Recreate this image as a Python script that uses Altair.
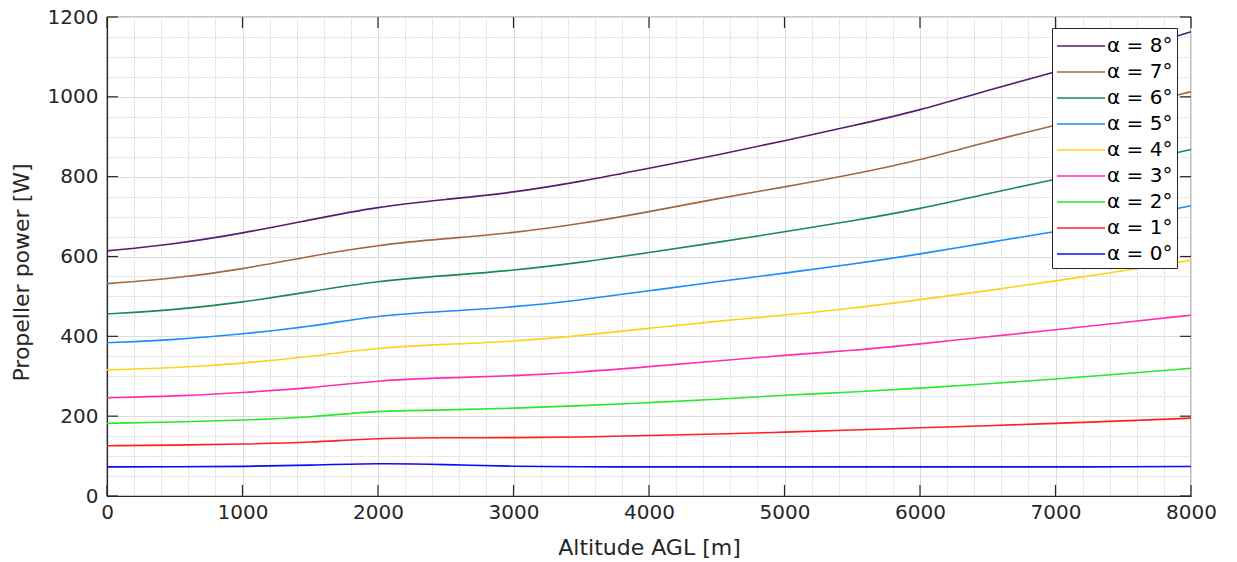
import altair as alt
import pandas as pd

altitude = [0, 500, 1000, 1500, 2000, 2500, 3000, 3500, 4000, 4500, 5000, 5500, 6000, 6500, 7000, 7500, 8000]
alpha_labels = ["α = 8°", "α = 7°", "α = 6°", "α = 5°", "α = 4°", "α = 3°", "α = 2°", "α = 1°", "α = 0°"]
alpha_colors = ["#561c72", "#a6673f", "#1b8a4e", "#1a8cff", "#ffd21a", "#ff2eb4", "#2ae82a", "#ff2020", "#0a0aff"]

p8 = [614, 631, 658, 692, 725, 743, 760, 788, 821, 854, 890, 927, 966, 1017, 1062, 1112, 1163]
p7 = [532, 545, 568, 601, 629, 645, 659, 682, 712, 745, 774, 805, 841, 888, 929, 970, 1013]
p6 = [456, 466, 485, 512, 539, 552, 565, 585, 610, 635, 662, 689, 719, 758, 793, 830, 868]
p5 = [384, 391, 406, 424, 453, 463, 473, 491, 514, 537, 558, 581, 606, 635, 662, 694, 727]
p4 = [316, 321, 332, 349, 372, 380, 387, 402, 420, 438, 453, 470, 492, 514, 539, 564, 591]
p3 = [246, 250, 259, 270, 290, 296, 301, 310, 324, 338, 353, 364, 381, 399, 416, 435, 453]
p2 = [182, 185, 190, 197, 214, 215, 220, 226, 234, 242, 253, 260, 270, 281, 293, 306, 320]
p1 = [126, 127, 130, 134, 145, 146, 146, 147, 152, 155, 160, 165, 171, 176, 182, 188, 195]
p0 = [73, 73, 74, 77, 82, 79, 74, 73, 73, 73, 73, 73, 73, 73, 73, 73, 74]

x_major = [0, 1000, 2000, 3000, 4000, 5000, 6000, 7000, 8000]
y_major = [0, 200, 400, 600, 800, 1000, 1200]
x_minor = list(range(0, 8001, 200))
y_minor = list(range(0, 1201, 50))

series = [p8, p7, p6, p5, p4, p3, p2, p1, p0]
rows = []
for lab, vals in zip(alpha_labels, series):
    for a, v in zip(altitude, vals):
        rows.append({"altitude": a, "power": v, "alpha": lab})
df = pd.DataFrame(rows)
xt_df = pd.DataFrame({"xt": x_major})
yt_df = pd.DataFrame({"yt": y_major})

W, H = 1084, 479
TL = 11
FONT = "DejaVu Sans"
TXT = "#262626"
xs = alt.Scale(domain=[0, 8000], nice=False, zero=False)
ys = alt.Scale(domain=[0, 1200], nice=False, zero=False)

base = alt.Chart(df)

# grid layer (major solid, minor dotted)
grid = base.mark_line(opacity=0).encode(
    x=alt.X("altitude:Q", scale=xs, axis=alt.Axis(
        orient="bottom", values=x_minor, grid=True, labels=False, ticks=False, domain=False, title=None,
        gridColor={"condition": {"test": "datum.value % 1000 === 0", "value": "#dcdcdc"}, "value": "#bdbdbd"},
        gridDash={"condition": {"test": "datum.value % 1000 === 0", "value": []}, "value": [1, 2]},
        gridWidth=1)),
    y=alt.Y("power:Q", scale=ys, axis=alt.Axis(
        orient="left", values=y_minor, grid=True, labels=False, ticks=False, domain=False, title=None,
        gridColor={"condition": {"test": "datum.value % 200 === 0", "value": "#dcdcdc"}, "value": "#bdbdbd"},
        gridDash={"condition": {"test": "datum.value % 200 === 0", "value": []}, "value": [1, 2]},
        gridWidth=1)),
)

lines = base.mark_line(strokeWidth=1.6, interpolate="basis").encode(
    x=alt.X("altitude:Q", scale=xs, axis=alt.Axis(
        orient="bottom", values=x_major, format="d", grid=False, ticks=False, domain=True,
        domainColor=TXT, domainWidth=1.2,
        labelFont=FONT, labelFontSize=20, labelColor=TXT, labelPadding=6, labelFlush=False, labelOverlap=False,
        title="Altitude AGL [m]", titleFont=FONT, titleFontSize=22, titleFontWeight="normal",
        titleColor=TXT, titlePadding=15)),
    y=alt.Y("power:Q", scale=ys, axis=alt.Axis(
        orient="left", values=y_major, format="d", grid=False, ticks=False, domain=True,
        domainColor=TXT, domainWidth=1.2,
        labelFont=FONT, labelFontSize=20, labelColor=TXT, labelPadding=9, labelFlush=False, labelOverlap=False,
        title="Propeller power [W]", titleFont=FONT, titleFontSize=22, titleFontWeight="normal",
        titleColor=TXT, titlePadding=14, titleY=255)),
    color=alt.Color("alpha:N", scale=alt.Scale(domain=alpha_labels, range=alpha_colors),
                    legend=alt.Legend(orient="none", legendX=945, legendY=11, title=None,
                                      fillColor="white", strokeColor=TXT, padding=4,
                                      labelFont=FONT, labelFontSize=20, labelColor="black",
                                      symbolType="M-1.85,0H1.85", symbolSize=676, symbolStrokeWidth=1.5,
                                      symbolOffset=11, labelOffset=12, rowPadding=2)),
)

# inward major ticks on all four sides (box style)
tick_style = dict(color=TXT, strokeWidth=1.2)
xt_bottom = alt.Chart(xt_df).mark_rule(**tick_style).encode(
    x=alt.X("xt:Q", scale=xs, axis=None), y=alt.value(H), y2=alt.value(H - TL))
xt_top = alt.Chart(xt_df).mark_rule(**tick_style).encode(
    x=alt.X("xt:Q", scale=xs, axis=None), y=alt.value(0), y2=alt.value(TL))
yt_left = alt.Chart(yt_df).mark_rule(**tick_style).encode(
    y=alt.Y("yt:Q", scale=ys, axis=None), x=alt.value(0), x2=alt.value(TL))
yt_right = alt.Chart(yt_df).mark_rule(**tick_style).encode(
    y=alt.Y("yt:Q", scale=ys, axis=None), x=alt.value(W), x2=alt.value(W - TL))

chart = alt.layer(grid, lines, xt_bottom, xt_top, yt_left, yt_right).resolve_axis(
    x="independent", y="independent"
).properties(
    width=W, height=H,
    autosize=alt.AutoSizeParams(type="none"),
    padding={"left": 107, "top": 17, "right": 46, "bottom": 66},
    background="white",
).configure_view(stroke=TXT, strokeWidth=1.2)

chart.save("out.html", embed_options={"renderer": "svg", "actions": False})
